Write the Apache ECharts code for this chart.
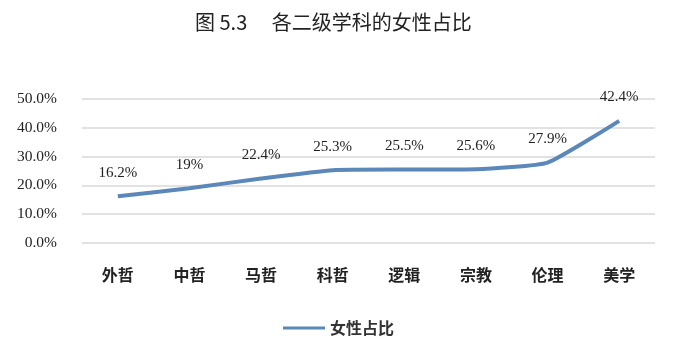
<!DOCTYPE html>
<html><head><meta charset="utf-8">
<script src="https://cdn.jsdelivr.net/npm/echarts@6/dist/echarts.min.js"></script>
<style>html,body{margin:0;padding:0;background:#fff}#c{width:677px;height:352px}</style>
</head><body><div id="c"></div>
<script>
const categories = ['外哲','中哲','马哲','科哲','逻辑','宗教','伦理','美学'];
const femaleShare = [16.2, 19, 22.4, 25.3, 25.5, 25.6, 27.9, 42.4];
const seriesName = '女性占比';
const titleText = '图 5.3　 各二级学科的女性占比';

const chart = echarts.init(document.getElementById('c'));
chart.setOption({
  animation: false,
  title: {
    text: titleText, left: 190, top: 7,
    textStyle: {fontFamily: 'Noto Sans CJK SC', fontSize: 20, fontWeight: 'normal', color: '#222'}
  },
  legend: {
    bottom: 11, left: 'center', itemWidth: 42, itemHeight: 3, itemGap: 9,
    icon: 'rect',
    textStyle: {fontFamily: 'Noto Sans CJK SC', fontSize: 16, fontWeight: 'bold', color: '#333'},
    data: [seriesName]
  },
  grid: {left: 82, right: 22, top: 99, bottom: 109, containLabel: false},
  xAxis: {
    type: 'category', data: categories, boundaryGap: true,
    axisLine: {show: false}, axisTick: {show: false},
    axisLabel: {margin: 24, fontFamily: 'Noto Sans CJK SC', fontSize: 16, fontWeight: 'bold', color: '#222'}
  },
  yAxis: {
    type: 'value', min: 0, max: 50, interval: 10,
    axisLine: {show: false}, axisTick: {show: false},
    axisLabel: {formatter: v => v.toFixed(1) + '%', fontFamily: 'Liberation Serif', fontSize: 15.5, color: '#222', margin: 25},
    splitLine: {lineStyle: {color: '#d9d9d9', width: 1.5}}
  },
  series: [{
    name: seriesName, type: 'line', data: femaleShare,
    symbol: 'circle', symbolSize: 0, showSymbol: true,
    smooth: 0.15,
    lineStyle: {color: '#5b87b9', width: 4},
    itemStyle: {color: '#5b87b9'},
    label: {show: true, position: 'top', distance: 16, formatter: p => p.value + '%',
      fontFamily: 'Liberation Serif', fontSize: 15, color: '#222'}
  }]
});
</script></body></html>
